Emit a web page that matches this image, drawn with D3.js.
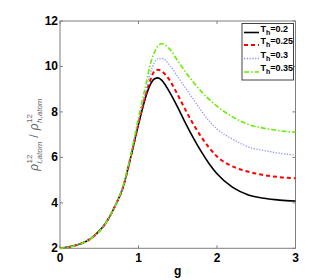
<!DOCTYPE html>
<html>
<head>
<meta charset="utf-8">
<script src="https://cdn.jsdelivr.net/npm/d3@7"></script>
<style>
  body { margin: 0; background: #fff; }
  svg { display: block; }
  text { font-family: "Liberation Sans", Arial, sans-serif; }
</style>
</head>
<body>
<div id="chart"></div>
<script>
// g values (x) shared by every curve
var gValues = [0, 0.2, 0.4, 0.6, 0.7, 0.8, 0.9, 1.0, 1.1, 1.15, 1.2, 1.25, 1.3, 1.4, 1.5, 1.6, 1.7, 1.8, 1.9, 2.0, 2.2, 2.4, 2.6, 2.8, 3.0];

var ratioT020 = [2, 2.13, 2.45, 3.2, 3.85, 4.65, 6.0, 7.45, 8.75, 9.2, 9.45, 9.5, 9.38, 8.85, 8.2, 7.5, 6.85, 6.25, 5.72, 5.28, 4.68, 4.35, 4.2, 4.12, 4.08];
var ratioT025 = [2, 2.13, 2.45, 3.2, 3.85, 4.65, 6.0, 7.5, 8.85, 9.4, 9.78, 9.86, 9.78, 9.38, 8.75, 8.08, 7.45, 6.9, 6.42, 6.04, 5.6, 5.37, 5.22, 5.13, 5.08];
var ratioT030 = [2, 2.13, 2.45, 3.2, 3.85, 4.7, 6.05, 7.6, 9.0, 9.7, 10.15, 10.35, 10.35, 10.05, 9.55, 9.05, 8.55, 8.05, 7.6, 7.25, 6.8, 6.46, 6.3, 6.18, 6.1];
var ratioT035 = [2, 2.13, 2.45, 3.2, 3.85, 4.7, 6.1, 7.75, 9.3, 10.1, 10.6, 10.9, 11.0, 10.75, 10.25, 9.75, 9.3, 8.9, 8.55, 8.25, 7.78, 7.45, 7.28, 7.17, 7.1];

var seriesNames = ["0.2", "0.25", "0.3", "0.35"];
var xTicks = [0, 1, 2, 3];
var yTicks = [2, 4, 6, 8, 10, 12];

var styles = [
  { color: "#000000", width: 1.6, dash: null },
  { color: "#ff0000", width: 2, dash: "4,3" },
  { color: "#8c8cff", width: 1.3, dash: "1.2,1.6" },
  { color: "#66ee00", width: 1.6, dash: "5,2,1.5,2" }
];

var series = [ratioT020, ratioT025, ratioT030, ratioT035].map(function (vals, i) {
  return { name: seriesNames[i], points: gValues.map(function (g, j) { return [g, vals[j]]; }) };
});

var W = 327, H = 280;
var margin = { top: 21, right: 31.5, bottom: 31.7, left: 60 };

var svg = d3.select("#chart").append("svg").attr("width", W).attr("height", H);

var x = d3.scaleLinear().domain([0, 3]).range([margin.left, W - margin.right]);
var y = d3.scaleLinear().domain([2, 12]).range([H - margin.bottom, margin.top]);

var axisColor = "#7f7f7f";

// box
svg.append("rect")
  .attr("x", x(0)).attr("y", y(12))
  .attr("width", x(3) - x(0)).attr("height", y(2) - y(12))
  .attr("fill", "none").attr("stroke", axisColor).attr("stroke-width", 1);

// ticks (inward, all four sides)
var tl = 3;
xTicks.forEach(function (t) {
  svg.append("line").attr("x1", x(t)).attr("x2", x(t)).attr("y1", y(2)).attr("y2", y(2) - tl).attr("stroke", axisColor);
  svg.append("line").attr("x1", x(t)).attr("x2", x(t)).attr("y1", y(12)).attr("y2", y(12) + tl).attr("stroke", axisColor);
  svg.append("text").attr("x", x(t)).attr("y", y(2) + 14)
    .attr("text-anchor", "middle").attr("font-size", 12).attr("font-weight", "bold").text(t);
});
yTicks.forEach(function (t) {
  svg.append("line").attr("x1", x(0)).attr("x2", x(0) + tl).attr("y1", y(t)).attr("y2", y(t)).attr("stroke", axisColor);
  svg.append("line").attr("x1", x(3)).attr("x2", x(3) - tl).attr("y1", y(t)).attr("y2", y(t)).attr("stroke", axisColor);
  svg.append("text").attr("x", x(0) - 2).attr("y", y(t) + 4)
    .attr("text-anchor", "end").attr("font-size", 12).attr("font-weight", "bold").text(t);
});

// x label
svg.append("text").attr("x", x(1.5)).attr("y", 275)
  .attr("text-anchor", "middle").attr("font-size", 12).attr("font-weight", "bold").text("g");

// y label: rho^12_{l,atom} / rho^12_{h,atom}
var yl = svg.append("g").attr("transform", "translate(38," + ((y(2) + y(12)) / 2) + ") rotate(-90)");
var lab = yl.append("g");
var mathFont = "'DejaVu Serif', 'Liberation Serif', serif";
var labColor = "#666";
var cx = 0;
function part(txt, size, dy, italic) {
  var t = lab.append("text").attr("x", cx).attr("y", dy)
    .attr("font-family", mathFont).attr("font-size", size)
    .attr("font-style", italic ? "italic" : "normal").attr("fill", labColor).text(txt);
  return t.node().getComputedTextLength();
}
function frac(sub) {
  var w = part("\u03c1", 12, 0, true);
  cx += w + 0.5;
  var w1 = part("12", 8, -6, false);
  var w2 = part(sub, 8, 4, true);
  cx += Math.max(w1, w2);
}
frac("l,atom");
cx += 4;
cx += part("/", 12, 0, false) + 4;
frac("h,atom");
lab.attr("transform", "translate(" + (-cx / 2) + ",0)");

// curves
var line = d3.line()
  .x(function (d) { return x(d[0]); })
  .y(function (d) { return y(d[1]); })
  .curve(d3.curveMonotoneX);

var plot = svg.append("g");
series.forEach(function (s, i) {
  plot.append("path").datum(s.points)
    .attr("d", line)
    .attr("fill", "none")
    .attr("stroke", styles[i].color)
    .attr("stroke-width", styles[i].width)
    .attr("stroke-dasharray", styles[i].dash);
});

// legend
var lx = 242, ly = 23.5, lw = 51.5, lh = 56.5;
svg.append("rect").attr("x", lx).attr("y", ly).attr("width", lw).attr("height", lh)
  .attr("fill", "#fff").attr("stroke", "#444").attr("stroke-width", 1);
var rowY = [32.5, 45, 58.5, 72];
series.forEach(function (s, i) {
  var ry = rowY[i];
  svg.append("line").attr("x1", lx + 2).attr("x2", lx + 17).attr("y1", ry).attr("y2", ry)
    .attr("stroke", styles[i].color).attr("stroke-width", styles[i].width)
    .attr("stroke-dasharray", styles[i].dash);
  var t = svg.append("text").attr("x", lx + 18.5).attr("y", ry - 1)
    .attr("font-size", 9).attr("font-weight", "bold");
  t.append("tspan").text("T");
  t.append("tspan").attr("font-size", 7).attr("dy", 3).text("h");
  t.append("tspan").attr("dy", -3).text("=" + s.name);
});
</script>
</body>
</html>
